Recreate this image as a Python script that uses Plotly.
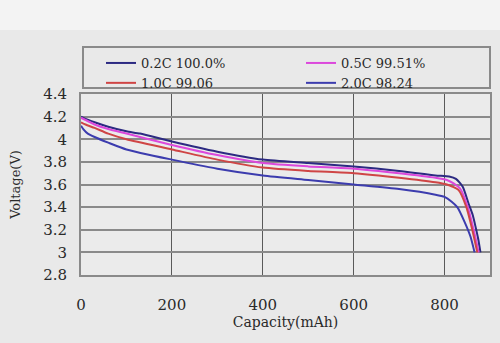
import plotly.graph_objects as go

# ---- data ----
series_names = ["0.2C 100.0%", "0.5C 99.51%", "1.0C 99.06", "2.0C 98.24"]

cap_02 = [0, 10, 30, 60, 100, 130, 200, 300, 400, 500, 600, 700, 780, 810, 825, 840, 853, 862, 868, 874, 879]
volt_02 = [4.20, 4.18, 4.15, 4.11, 4.07, 4.05, 3.98, 3.89, 3.82, 3.79, 3.76, 3.72, 3.68, 3.67, 3.65, 3.58, 3.43, 3.33, 3.23, 3.12, 3.00]

cap_05 = [0, 10, 30, 60, 100, 200, 300, 400, 500, 600, 700, 780, 805, 820, 835, 851, 864, 875]
volt_05 = [4.19, 4.17, 4.13, 4.09, 4.05, 3.95, 3.86, 3.79, 3.76, 3.74, 3.70, 3.66, 3.64, 3.61, 3.56, 3.40, 3.20, 3.00]

cap_10 = [0, 10, 30, 60, 100, 200, 300, 400, 500, 600, 700, 780, 805, 818, 831, 848, 861, 872]
volt_10 = [4.15, 4.13, 4.10, 4.05, 4.00, 3.91, 3.82, 3.75, 3.72, 3.70, 3.66, 3.62, 3.60, 3.58, 3.55, 3.40, 3.20, 3.00]

cap_20 = [0, 5, 15, 30, 60, 100, 200, 300, 400, 500, 600, 700, 780, 800, 815, 828, 844, 857, 866]
volt_20 = [4.12, 4.09, 4.05, 4.02, 3.97, 3.91, 3.82, 3.74, 3.68, 3.64, 3.60, 3.56, 3.51, 3.49, 3.45, 3.40, 3.27, 3.14, 3.00]

x_ticks = [0, 200, 400, 600, 800]
x_tick_labels = ["0", "200", "400", "600", "800"]
y_ticks = [2.8, 3.0, 3.2, 3.4, 3.6, 3.8, 4.0, 4.2, 4.4]
y_tick_labels = ["2.8", "3", "3.2", "3.4", "3.6", "3.8", "4", "4.2", "4.4"]

# ---- styling ----
colors = ["#2c2a82", "#dc48dc", "#cf4545", "#3c3cae"]
legend_ids = ["legend", "legend2", "legend", "legend2"]

W, H = 500, 343
ML, MR, MT, MB = 81, 10, 94, 68
PW, PH = W - ML - MR, H - MT - MB


def px_x(p):
    return (p - ML) / PW


def px_y(p):
    return 1 + (MT - p) / PH


FONT = "DejaVu Serif"
TXT = "#2a2a2a"

fig = go.Figure()
for caps, volts, name, col, lg in zip(
    [cap_02, cap_05, cap_10, cap_20],
    [volt_02, volt_05, volt_10, volt_20],
    series_names, colors, legend_ids,
):
    fig.add_trace(go.Scatter(
        x=caps, y=volts, mode="lines", name=name, legend=lg,
        line=dict(color=col, width=2, shape="spline", smoothing=0.6),
    ))

legend_common = dict(
    xanchor="left", yanchor="top", orientation="v",
    bgcolor="rgba(0,0,0,0)", borderwidth=0,
    font=dict(family=FONT, size=13, color=TXT),
    itemwidth=30, tracegroupgap=0,
)

fig.update_layout(
    width=W, height=H,
    margin=dict(l=ML, r=MR, t=MT, b=MB, autoexpand=False),
    paper_bgcolor="#e9e9e9",
    plot_bgcolor="#ebebeb",
    font=dict(family=FONT, color=TXT, size=14),
    showlegend=True,
    legend=dict(x=px_x(101), y=px_y(48), **legend_common),
    legend2=dict(x=px_x(301), y=px_y(48), **legend_common),
    shapes=[
        # lighter band at the top of the picture
        dict(type="rect", xref="paper", yref="paper", layer="below",
             x0=px_x(0), x1=px_x(W), y0=px_y(30), y1=px_y(0),
             fillcolor="#f3f3f3", line=dict(width=0)),
        # legend frame
        dict(type="rect", xref="paper", yref="paper", layer="above",
             x0=px_x(83), x1=px_x(490), y0=px_y(88), y1=px_y(47),
             fillcolor="rgba(0,0,0,0)", line=dict(color="#8a8a8a", width=2)),
    ],
)

fig.update_xaxes(
    range=[0, 900], tickvals=x_ticks, ticktext=x_tick_labels,
    showgrid=True, gridcolor="#5a5a5a", gridwidth=1,
    showline=True, linecolor="#8a8a8a", linewidth=2, mirror=True,
    zeroline=False, ticks="", ticklabelstandoff=15,
    tickfont=dict(family=FONT, size=15, color=TXT),
    title=dict(text="Capacity(mAh)", font=dict(family=FONT, size=14, color=TXT), standoff=4),
)
fig.update_yaxes(
    range=[2.8, 4.4], tickvals=y_ticks, ticktext=y_tick_labels,
    showgrid=True, gridcolor="#8a8a8a", gridwidth=1.5,
    showline=True, linecolor="#8a8a8a", linewidth=2, mirror=True,
    zeroline=False, ticks="", ticklabelstandoff=9,
    tickfont=dict(family=FONT, size=15, color=TXT),
    title=dict(text="Voltage(V)", font=dict(family=FONT, size=13, color=TXT), standoff=20),
)

fig.write_html(
    "out.html",
    config={"displayModeBar": False},
    post_script="document.body.style.margin='0';document.body.style.background='#e9e9e9';",
)
